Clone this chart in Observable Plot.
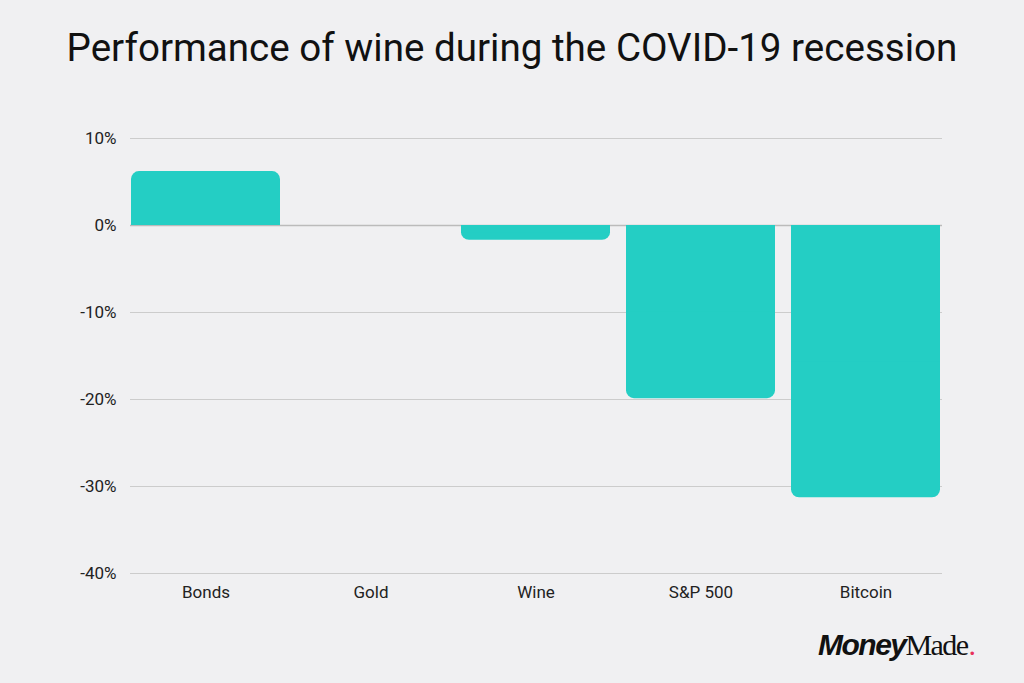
<!DOCTYPE html>
<html>
<head>
<meta charset="utf-8">
<script src="https://cdn.jsdelivr.net/npm/d3@7"></script>
<script src="https://cdn.jsdelivr.net/npm/@observablehq/plot@0.6"></script>
<style>
  html, body { margin: 0; padding: 0; background: #f0f0f2; }
  body { width: 1024px; height: 683px; position: relative; overflow: hidden; font-family: Roboto, "Noto Sans", sans-serif; }
  #title { position: absolute; left: 0; top: 25px; width: 1024px; text-align: center; font-size: 38.6px; color: #111; font-weight: 400; }
  #chart { position: absolute; left: 0; top: 0; }
  #logo { position: absolute; left: 818px; top: 627px; font-size: 30px; color: #111; white-space: nowrap; }
  #logo .m { font-family: "Liberation Sans", Arial, sans-serif; font-weight: 700; font-style: italic; letter-spacing: -1.5px; }
  #logo .d { font-family: "Liberation Serif", "DejaVu Serif", serif; letter-spacing: -1.6px; }
  #logo .dot { color: #e8315b; font-family: "Liberation Serif", serif; margin-left: 1px; }
</style>
</head>
<body>
<div id="title">Performance of wine during the COVID-19 recession</div>
<div id="chart"></div>
<div id="logo"><span class="m">Money</span><span class="d">Made</span><span class="dot">.</span></div>
<script>
const categories = ["Bonds", "Gold", "Wine", "S&P 500", "Bitcoin"];
const values = [0.062, 0, -0.017, -0.199, -0.313];
const yTicks = [0.1, 0, -0.1, -0.2, -0.3, -0.4];

const data = categories.map((c, i) => ({ category: c, value: values[i] }));
const barColor = "#24cec4";

const chart = Plot.plot({
  width: 1024,
  height: 620,
  marginTop: 138,
  marginBottom: 47,
  marginLeft: 130,
  marginRight: 82,
  style: { background: "transparent", fontFamily: "Roboto, sans-serif", fontSize: "17px", color: "#222" },
  x: { domain: categories, paddingInner: 0.094, paddingOuter: 0, label: null, tickSize: 0, tickPadding: 12 },
  y: { domain: [-0.4, 0.1], ticks: yTicks, tickFormat: d => Math.round(d * 100) + "%", label: null, tickSize: 0, tickPadding: 14 },
  marks: [
    Plot.ruleY(yTicks, { stroke: "#cccccc", strokeWidth: 1 }),
    Plot.ruleY([0], { stroke: "#bbbbbb", strokeWidth: 1.5 }),
    Plot.barY(data, { x: "category", y1: 0, y2: "value", fill: barColor, rx: 8 }),
    Plot.barY(data, { x: "category", y1: 0, y2: d => d.value / 2, fill: barColor })
  ]
});
document.getElementById("chart").appendChild(chart);
</script>
</body>
</html>
